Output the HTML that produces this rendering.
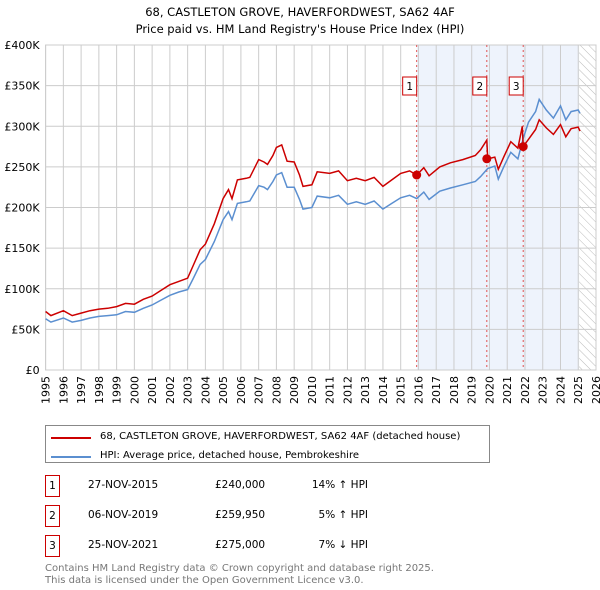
<!DOCTYPE html>
<html><head><meta charset="utf-8"><style>
body{margin:0;background:#fff;font-family:"DejaVu Sans","Liberation Sans",sans-serif;}
#wrap{position:relative;width:600px;height:590px;}
.t{position:absolute;font-size:10.5px;color:#000;white-space:nowrap;}
</style></head><body><div id="wrap">
<div class="t" style="left:0;width:600px;top:4px;text-align:center;font-size:11.5px;line-height:17px">68, CASTLETON GROVE, HAVERFORDWEST, SA62 4AF<br>Price paid vs. HM Land Registry's House Price Index (HPI)</div>
<svg id="chart" width="600" height="410" style="position:absolute;left:0;top:0"></svg>
<div style="position:absolute;left:45px;top:425px;width:443px;height:36px;border:1px solid #888;"></div>
<div style="position:absolute;left:51px;top:437px;width:40px;height:2px;background:#cc0000"></div>
<div class="t" style="left:100px;top:431px;font-size:10px">68, CASTLETON GROVE, HAVERFORDWEST, SA62 4AF (detached house)</div>
<div style="position:absolute;left:51px;top:456px;width:40px;height:2px;background:#5b8fd0"></div>
<div class="t" style="left:100px;top:450px;font-size:10px">HPI: Average price, detached house, Pembrokeshire</div>
<div id="rows"></div>
<div class="t" style="left:45px;top:563px;font-size:10px;color:#777;line-height:11.5px">Contains HM Land Registry data © Crown copyright and database right 2025.<br>This data is licensed under the Open Government Licence v3.0.</div>
</div>
<script>
const hpiDates=[1995.0,1995.3,1996.0,1996.5,1997.0,1997.5,1998.0,1998.5,1999.0,1999.5,2000.0,2000.5,2001.0,2001.5,2002.0,2002.5,2003.0,2003.3,2003.7,2004.0,2004.5,2005.0,2005.3,2005.5,2005.8,2006.3,2006.5,2007.0,2007.3,2007.5,2007.8,2008.0,2008.3,2008.6,2009.0,2009.3,2009.5,2010.0,2010.3,2011.0,2011.5,2012.0,2012.5,2013.0,2013.5,2014.0,2014.5,2015.0,2015.5,2015.9,2016.3,2016.6,2017.2,2017.8,2018.5,2019.2,2019.5,2019.9,2020.3,2020.5,2020.8,2021.2,2021.6,2021.9,2022.2,2022.6,2022.8,2023.2,2023.6,2024.0,2024.3,2024.6,2025.0,2025.1];
const hpiValues=[63,59,64,59,61,64,66,67,68,72,71,76,80,86,92,96,99,112,130,136,158,185,195,185,205,207,208,227,225,222,232,240,243,225,225,210,198,200,214,212,215,204,207,204,208,198,205,212,215,211,219,210,220,224,228,232,238,248,251,235,250,268,260,285,305,318,333,320,310,325,308,318,320,316];
const propDates=[1995.0,1995.3,1996.0,1996.5,1997.0,1997.5,1998.0,1998.5,1999.0,1999.5,2000.0,2000.5,2001.0,2001.5,2002.0,2002.5,2003.0,2003.3,2003.7,2004.0,2004.5,2005.0,2005.3,2005.5,2005.8,2006.3,2006.5,2007.0,2007.3,2007.5,2007.8,2008.0,2008.3,2008.6,2009.0,2009.3,2009.5,2010.0,2010.3,2011.0,2011.5,2012.0,2012.5,2013.0,2013.5,2014.0,2014.5,2015.0,2015.5,2015.9,2016.3,2016.6,2017.2,2017.8,2018.5,2019.2,2019.5,2019.85,2019.9,2020.3,2020.5,2020.8,2021.2,2021.6,2021.85,2021.9,2022.2,2022.6,2022.8,2023.2,2023.6,2024.0,2024.3,2024.6,2025.0,2025.1];
const propValues=[72,67,73,67,70,73,75,76,78,82,81,87,91,98,105,109,113,128,148,155,180,211,222,211,234,236,237,259,256,253,264,274,277,257,256,240,226,228,244,242,245,233,236,233,237,226,234,242,245,240,249,239,250,255,259,264,271,283,260,262,247,262,281,273,300,275,284,296,308,298,290,302,287,297,299,294];
const saleDates=[2015.9,2019.85,2021.9];
const salePrices=[240000,259950,275000];
const saleLabels=["1","2","3"];
const saleDateText=["27-NOV-2015","06-NOV-2019","25-NOV-2021"];
const salePriceText=["£240,000","£259,950","£275,000"];
const saleHpiText=["14% ↑ HPI","5% ↑ HPI","7% ↓ HPI"];
const yTicks=[0,50,100,150,200,250,300,350,400];
const yTickLabels=["£0","£50K","£100K","£150K","£200K","£250K","£300K","£350K","£400K"];
const xYears=[1995,1996,1997,1998,1999,2000,2001,2002,2003,2004,2005,2006,2007,2008,2009,2010,2011,2012,2013,2014,2015,2016,2017,2018,2019,2020,2021,2022,2023,2024,2025,2026];

const X0=45.6,X1=596,Y0=370,Y1=45;
const xs=y=>X0+(y-1995)/(2026-1995)*(X1-X0);
const ys=v=>Y0-v/400*(Y0-Y1);
const svg=document.getElementById('chart');
const NS='http://www.w3.org/2000/svg';
function mk(tag,at){const e=document.createElementNS(NS,tag);for(const k in at)e.setAttribute(k,at[k]);svg.appendChild(e);return e;}
let defs=document.createElementNS(NS,'defs');
defs.innerHTML='<pattern id="hatch" width="6" height="6" patternUnits="userSpaceOnUse" patternTransform="rotate(-45)"><line x1="0" y1="0" x2="0" y2="6" stroke="#bbb" stroke-width="1"/></pattern>';
svg.appendChild(defs);
let sh=mk('rect',{x:xs(saleDates[0]),y:Y1,width:xs(2025.05)-xs(saleDates[0]),height:Y0-Y1,fill:'#eef3fc'});


let ht=mk('rect',{x:xs(2025.05),y:Y1,width:X1-xs(2025.05),height:Y0-Y1,fill:'url(#hatch)'});


xYears.forEach((yr,i)=>{
 let g=mk('line',{x1:xs(yr),x2:xs(yr),y1:Y1,y2:Y0,stroke:'#ccc','stroke-width':1});
 
 
 let t=mk('text',{x:0,y:0,'font-size':11,'text-anchor':'end',transform:`translate(${xs(yr)+4},${Y0+6}) rotate(-90)`,fill:'#000'});
 t.textContent=yr;
 
 
});
yTicks.forEach((v,i)=>{
 let g=mk('line',{x1:X0,x2:X1,y1:ys(v),y2:ys(v),stroke:'#ccc','stroke-width':1});
 
 
 let t=mk('text',{x:X0-6,y:ys(v)+4,'font-size':11,'text-anchor':'end',fill:'#000'});
 t.textContent=yTickLabels[i];
 
 
});
let fr=mk('rect',{x:X0,y:Y1,width:X1-X0,height:Y0-Y1,fill:'none',stroke:'#ccc'});


saleDates.forEach((d,i)=>{
 let l=mk('line',{x1:xs(d),x2:xs(d),y1:Y1,y2:Y0,stroke:'#e05050','stroke-width':1,'stroke-dasharray':'2,3'});
 
 
 let b=mk('rect',{x:xs(d)-14,y:77,width:14,height:18,fill:'#fff',stroke:'#cc0000'});
 
 
 let t=mk('text',{x:xs(d)-7,y:90,'font-size':10.5,'text-anchor':'middle'});
 t.textContent=saleLabels[i];
 
 
});
function path(ds,vs){return ds.map((d,i)=>(i?'L':'M')+xs(d).toFixed(1)+','+ys(vs[i]).toFixed(1)).join('');}
let hp=mk('path',{d:path(hpiDates,hpiValues),fill:'none',stroke:'#5b8fd0','stroke-width':1.5});


let pp=mk('path',{d:path(propDates,propValues),fill:'none',stroke:'#cc0000','stroke-width':1.5});


saleDates.forEach((d,i)=>{
 let c=mk('circle',{cx:xs(d),cy:ys(salePrices[i]/1000),r:4.5,fill:'#cc0000'});
 
 
});
const rows=document.getElementById('rows');
saleDates.forEach((d,i)=>{
 const top=475+i*30;
 const r=document.createElement('div');
 
 
 r.innerHTML=`<div class="t" style="left:45px;top:${top}px;width:13px;height:20px;border:1px solid #cc0000;text-align:center;line-height:20px">${saleLabels[i]}</div>
<div class="t" style="left:88px;top:${top+4}px">${saleDateText[i]}</div>
<div class="t" style="left:215px;top:${top+4}px">${salePriceText[i]}</div>
<div class="t" style="left:298px;width:70px;text-align:right;top:${top+4}px">${saleHpiText[i]}</div>`;
 rows.appendChild(r);
});
</script></body></html>
